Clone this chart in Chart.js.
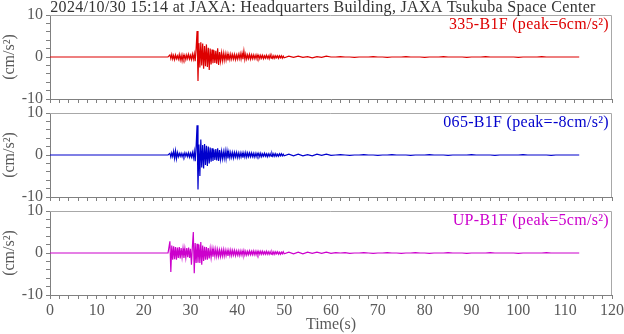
<!DOCTYPE html>
<html>
<head>
<meta charset="utf-8">
<script src="https://cdn.jsdelivr.net/npm/chart.js@4/dist/chart.umd.min.js"></script>
<style>
  html, body { margin: 0; padding: 0; background: #fff; }
  #wrap { position: relative; width: 624px; height: 334px; overflow: hidden; }
  #wrap canvas { position: absolute; left: 0; }
</style>
</head>
<body>
<div id="wrap">
  <canvas id="p1" width="624" height="106" style="top:0px"></canvas>
  <canvas id="p2" width="624" height="98" style="top:106px"></canvas>
  <canvas id="p3" width="624" height="130" style="top:204px"></canvas>
</div>
<script>
// Event record, acceleration in cm/s^2
const titleText = '2024/10/30 15:14 at JAXA: Headquarters Building, JAXA Tsukuba Space Center';
const channelNames = ['335-B1F', '065-B1F', 'UP-B1F'];
const xTickValues = [0, 10, 20, 30, 40, 50, 60, 70, 80, 90, 100, 110, 120];
const yTickValues = [-10, 0, 10];

// Time base of the samples (s)
const quietStart = 0;
const mainStart = 25.0, mainStep = 0.2;   // strong-motion part, 25.0 .. 49.8 s
const tailStart = 50.0, tailStep = 1.0;   // coda, 50 .. 113 s

const ns335Main = [
  0,0,0,0.5,-0.4,0.6,-0.5,0.4,-0.6,0.5,
  -0.4,0.3,-0.5,0.6,-0.7,0.4,-0.9,0.5,-0.5,0.4,
  -0.6,0.5,-0.4,0.6,-0.5,0.4,-0.6,0.7,-0.5,0.8,
  -1.0,2.0,6.2,-5.7,3.3,-2.5,3.5,-2.0,3.2,-2.8,
  2.6,-2.2,3.0,-2.4,2.2,-3.1,2.0,-1.8,1.8,-1.5,
  1.6,-1.4,1.5,-1.6,2.1,-1.9,1.2,-1.0,1.0,-0.9,
  0.9,-0.8,0.8,-0.7,0.7,-0.8,0.6,-0.6,0.7,-0.5,
  0.6,-0.5,0.6,-0.6,0.5,-0.5,0.6,-0.4,0.8,-0.5,
  0.9,-0.5,1.4,-0.6,0.7,-0.5,0.5,-0.4,0.6,-0.5,
  0.5,-0.4,0.5,-0.4,0.4,-0.4,0.5,-0.3,0.4,-0.4,
  0.4,-0.3,0.4,-0.4,0.3,-0.3,0.4,-0.3,0.3,-0.4,
  0.5,-0.3,0.3,-0.3,0.3,-0.3,0.3,-0.2,0.3,-0.3,
  0.3,-0.2,0.3,-0.3,0.2
];
const ns335Tail = [
  -0.2,0.2,-0.1,0.2,-0.1,0.1,-0.2,0.1,-0.1,0.2,
  0,0,0.1,0,0,-0.1,0,0,0,0.1,
  0,0,-0.1,0,0,0,0.1,0,0,0,
  -0.1,0,0,0,0.1,0,0,0,0,-0.1,
  0,0,0,0.1,0,0,0,0,0,0,
  -0.1,0,0,0,0,0.1,0,0,0,0,
  0,0,0,0
];

const ew065Main = [
  0,0,0,0.4,-0.5,0.5,-0.4,0.9,-0.8,1.0,
  -0.9,0.6,-0.4,0.4,-0.3,0.4,-0.4,0.3,-0.4,0.5,
  -0.3,0.4,-0.4,0.5,-0.5,0.4,-0.5,0.6,-0.7,0.9,
  -1.5,2.0,7.1,-8.2,2.5,-5.0,3.7,-3.0,2.4,-3.2,
  2.6,-2.4,2.2,-2.6,2.0,-2.0,1.8,-1.6,1.6,-1.4,
  1.3,-1.2,1.4,-1.3,1.6,-1.4,1.2,-1.0,0.9,-0.9,
  0.8,-0.8,1.0,-0.9,1.0,-0.8,0.7,-0.7,0.6,-0.6,
  0.6,-0.7,0.6,-0.5,0.6,-0.6,0.5,-0.6,0.5,-0.5,
  0.5,-0.6,0.5,-0.5,0.6,-0.5,0.5,-0.4,0.5,-0.4,
  0.5,-0.4,0.4,-0.5,0.4,-0.4,0.4,-0.3,0.4,-0.4,
  0.4,-0.4,0.3,-0.3,0.4,-0.3,0.3,-0.4,0.3,-0.3,
  0.3,-0.3,0.4,-0.3,0.3,-0.3,0.3,-0.3,0.2,-0.3,
  0.3,-0.2,0.3,-0.2,0.2
];
const ew065Tail = [
  -0.2,0.2,-0.2,0.2,-0.2,0.1,-0.2,0.2,-0.1,0.2,
  -0.1,0,0.1,0,-0.1,0,0,0.1,0,0,
  -0.1,0,0,0.1,0,0,0,-0.1,0,0,
  0,0.1,0,0,0,-0.1,0,0,0,0,
  0.1,0,0,0,0,-0.1,0,0,0,0,
  0,0.1,0,0,0,0,0,-0.1,0,0,
  0,0,0,0
];

const upMain = [
  0,0,0,2.8,-4.5,1.8,-1.6,1.6,-1.5,1.4,
  -1.6,1.3,-1.2,1.4,-1.3,1.2,-1.0,1.1,-1.2,1.0,
  -1.1,1.2,-1.0,1.3,-1.2,1.0,-2.8,1.5,5.0,-4.8,
  2.4,-2.4,2.2,-2.3,2.0,-2.4,2.6,-2.8,1.8,-1.9,
  1.5,-1.6,1.4,-1.6,1.2,-1.3,1.0,-1.1,1.0,-0.9,
  0.9,-0.8,0.9,-0.8,0.8,-0.8,0.7,-0.8,0.7,-0.7,
  0.8,-0.7,0.7,-0.6,0.6,-0.7,0.6,-0.6,0.7,-0.6,
  0.6,-0.5,0.6,-0.6,0.5,-0.5,0.5,-0.6,0.5,-0.5,
  0.5,-0.5,0.6,-0.5,0.4,-0.5,0.4,-0.4,0.5,-0.4,
  0.4,-0.4,0.5,-0.4,0.4,-0.4,0.4,-0.4,0.4,-0.3,
  0.4,-0.3,0.4,-0.3,0.3,-0.3,0.4,-0.3,0.3,-0.3,
  0.3,-0.3,0.3,-0.3,0.3,-0.3,0.3,-0.2,0.3,-0.3,
  0.2,-0.3,0.2,-0.2,0.3
];
const upTail = [
  -0.2,0.2,-0.2,0.2,-0.2,0.2,-0.1,0.2,-0.1,0.2,
  -0.1,0.1,0,0.1,-0.1,0,0,0.1,0,-0.1,
  0,0,0.1,0,0,-0.1,0,0,0.1,0,
  0,-0.1,0,0,0,0.1,0,0,0,-0.1,
  0,0,0,0,0.1,0,0,0,0,0,
  -0.1,0,0,0,0,0,0.1,0,0,0,
  0,0,0,0
];

const FONT = "'Liberation Serif', 'Times New Roman', serif";
const AXIS_GRAY = '#808080';
const TEXT_GRAY = '#5a5a5a';

function tracePoints(main, tail) {
  const pts = [{ x: quietStart, y: 0 }];
  main.forEach((v, i) => pts.push({ x: +(mainStart + i * mainStep).toFixed(2), y: v }));
  tail.forEach((v, i) => pts.push({ x: tailStart + i * tailStep, y: v }));
  return pts;
}

function peakOf(values) {
  let p = 0;
  values.forEach(v => { if (Math.abs(v) > Math.abs(p)) p = v; });
  return Math.round(p);
}

// Light frame on the top and right of each plotting area
const framePlugin = {
  id: 'frame',
  afterDatasetsDraw(chart) {
    const { ctx, chartArea: a } = chart;
    ctx.save();
    ctx.strokeStyle = '#a8a8a8';
    ctx.lineWidth = 1;
    const t = Math.round(a.top) + 0.5, r = Math.round(a.right) - 0.5, b = Math.round(a.bottom);
    ctx.beginPath();
    ctx.moveTo(Math.round(a.left), t);
    ctx.lineTo(r, t);
    ctx.lineTo(r, b);
    ctx.stroke();
    ctx.restore();
  }
};

// Channel name and peak value, top right inside the plot
const channelLabelPlugin = {
  id: 'channelLabel',
  afterDraw(chart, args, opts) {
    const { ctx, chartArea: a } = chart;
    ctx.save();
    ctx.font = '16px ' + FONT;
    ctx.letterSpacing = '0.3px';
    ctx.fillStyle = opts.color;
    ctx.textAlign = 'right';
    ctx.textBaseline = 'middle';
    ctx.fillText(opts.text, a.right - 3, a.top + 10);
    ctx.restore();
  }
};

// Record title above the first plot
const recordTitlePlugin = {
  id: 'recordTitle',
  afterDraw(chart, args, opts) {
    if (!opts.text) return;
    const { ctx } = chart;
    ctx.save();
    ctx.font = '16px ' + FONT;
    ctx.letterSpacing = '0.3px';
    ctx.fillStyle = '#333';
    ctx.textAlign = 'center';
    ctx.textBaseline = 'middle';
    ctx.fillText(opts.text, 323, 7.5);
    ctx.restore();
  }
};

function makePanel(canvasId, main, tail, color, name, cfg) {
  const all = main.concat(tail);
  const label = name + ' (peak=' + peakOf(all) + 'cm/s\u00B2)';
  return new Chart(document.getElementById(canvasId), {
    type: 'line',
    data: {
      datasets: [{
        data: tracePoints(main, tail),
        borderColor: color,
        borderWidth: 1.2,
        pointRadius: 0,
        tension: 0,
        fill: false
      }]
    },
    options: {
      responsive: false,
      animation: false,
      events: [],
      layout: { padding: { left: 0, right: 12, top: cfg.areaTop, bottom: 0 } },
      plugins: {
        legend: { display: false },
        tooltip: { enabled: false },
        channelLabel: { text: label, color: color },
        recordTitle: { text: cfg.title || '' }
      },
      scales: {
        x: {
          type: 'linear',
          min: 0,
          max: 120,
          afterFit(s) { s.height = cfg.xHeight; s.paddingLeft = 0; s.paddingRight = 0; },
          ticks: {
            stepSize: 2,
            autoSkip: false,
            maxRotation: 0,
            minRotation: 0,
            padding: 2,
            color: TEXT_GRAY,
            font: { family: FONT, size: 16 },
            callback: v => (cfg.xLabels && xTickValues.includes(v)) ? String(v) : ''
          },
          grid: { drawOnChartArea: false, drawTicks: true, tickLength: 4, color: AXIS_GRAY },
          border: { color: AXIS_GRAY },
          title: {
            display: !!cfg.xLabels,
            text: 'Time(s)',
            color: TEXT_GRAY,
            font: { family: FONT, size: 16 },
            padding: { top: 0, bottom: 0 }
          }
        },
        y: {
          min: -10,
          max: 10,
          afterFit(s) { s.width = 50; s.paddingTop = 0; s.paddingBottom = 0; },
          ticks: {
            stepSize: 2,
            autoSkip: false,
            padding: 3,
            color: TEXT_GRAY,
            font: { family: FONT, size: 16 },
            callback: v => yTickValues.includes(v) ? String(v) : ''
          },
          grid: { drawOnChartArea: false, drawTicks: true, tickLength: 4, color: AXIS_GRAY },
          border: { color: AXIS_GRAY },
          title: {
            display: true,
            text: '(cm/s\u00B2)',
            color: TEXT_GRAY,
            font: { family: FONT, size: 16 },
            padding: { top: 0.5, bottom: 0 }
          }
        }
      }
    },
    plugins: [framePlugin, channelLabelPlugin, recordTitlePlugin]
  });
}

makePanel('p1', ns335Main, ns335Tail, '#dd0000', channelNames[0], { areaTop: 15, xHeight: 7, title: titleText });
makePanel('p2', ew065Main, ew065Tail, '#0000cc', channelNames[1], { areaTop: 7, xHeight: 7 });
makePanel('p3', upMain, upTail, '#cc00cc', channelNames[2], { areaTop: 7, xHeight: 39, xLabels: true });
</script>
</body>
</html>
